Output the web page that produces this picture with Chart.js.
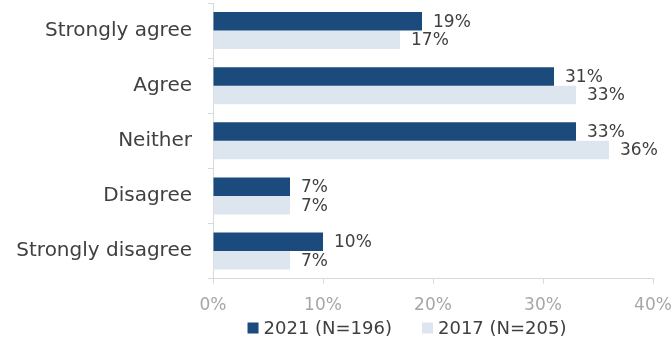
<!DOCTYPE html>
<html>
<head>
<meta charset="utf-8">
<script src="https://cdn.jsdelivr.net/npm/chart.js@4/dist/chart.umd.min.js"></script>
<style>
  html, body { margin: 0; padding: 0; background: #ffffff; }
  #wrap { width: 672px; height: 342px; position: relative; }
</style>
</head>
<body>
<div id="wrap"><canvas id="c" width="672" height="342"></canvas></div>
<script>
// Survey response categories and shares (%) per survey year
const categories = ['Strongly agree', 'Agree', 'Neither', 'Disagree', 'Strongly disagree'];
const values2021 = [19, 31, 33, 7, 10];
const values2017 = [17, 33, 36, 7, 7];
const seriesNames = ['2021 (N=196)', '2017 (N=205)'];
const xTicks = [0, 10, 20, 30, 40];

const FONT = '"DejaVu Sans", sans-serif';
const TEXT = '#404040';
const AXIS = '#d9d9d9';

// Writes each bar's value just past its end
const valueLabels = {
  id: 'valueLabels',
  afterDatasetsDraw(chart) {
    const ctx = chart.ctx;
    ctx.save();
    ctx.font = '17px ' + FONT;
    ctx.fillStyle = TEXT;
    ctx.textAlign = 'left';
    ctx.textBaseline = 'middle';
    chart.data.datasets.forEach((ds, i) => {
      const meta = chart.getDatasetMeta(i);
      meta.data.forEach((bar, j) => {
        ctx.fillText(ds.data[j] + '%', bar.x + 11, bar.y + 1);
      });
    });
    ctx.restore();
  }
};

// Single-row legend under the axis, square swatches with wide spacing
const bottomLegend = {
  id: 'bottomLegend',
  afterDraw(chart) {
    const ctx = chart.ctx;
    const box = 11, gapText = 5, gapItem = 30;
    ctx.save();
    ctx.font = '18px ' + FONT;
    ctx.textBaseline = 'middle';
    ctx.textAlign = 'left';
    const items = chart.data.datasets.map(ds => ({
      text: ds.label, color: ds.backgroundColor, w: ctx.measureText(ds.label).width
    }));
    const total = items.reduce((s, it) => s + box + gapText + it.w, 0) + gapItem * (items.length - 1);
    const cx = (chart.chartArea.left + chart.chartArea.right) / 2 - 26;
    const cy = chart.height - 14;
    let x = cx - total / 2;
    items.forEach(it => {
      ctx.fillStyle = it.color;
      ctx.fillRect(x, cy - box / 2, box, box);
      x += box + gapText;
      ctx.fillStyle = TEXT;
      ctx.fillText(it.text, x, cy + 1);
      x += it.w + gapItem;
    });
    ctx.restore();
  }
};

new Chart(document.getElementById('c'), {
  type: 'bar',
  data: {
    labels: categories,
    datasets: [
      { label: seriesNames[0], data: values2021, backgroundColor: '#1b4a7c' },
      { label: seriesNames[1], data: values2017, backgroundColor: '#dde5ee' }
    ]
  },
  options: {
    indexAxis: 'y',
    responsive: false,
    animation: false,
    devicePixelRatio: 1,
    categoryPercentage: 0.67,
    barPercentage: 1.0,
    layout: { padding: { top: 3, right: 19, left: 0, bottom: 14 } },
    plugins: {
      legend: { display: false },
      tooltip: { enabled: false }
    },
    scales: {
      x: {
        min: 0,
        max: 40,
        afterBuildTicks(axis) { axis.ticks = xTicks.map(v => ({ value: v })); },
        afterFit(axis) {
          axis.paddingLeft = 0;
          axis.paddingRight = 0;
        },
        grid: { drawOnChartArea: false, drawTicks: true, tickLength: 5, color: AXIS },
        border: { color: AXIS },
        ticks: {
          color: '#a6a6a6',
          padding: 12,
          maxRotation: 0,
          font: { family: FONT, size: 17 },
          callback: v => v + '%'
        }
      },
      y: {
        afterFit(axis) {
          axis.width = 213;
          axis.paddingTop = 0;
          axis.paddingBottom = 0;
        },
        grid: { drawOnChartArea: false, drawTicks: true, tickLength: 5, color: AXIS, offset: true },
        border: { color: AXIS },
        ticks: {
          color: TEXT,
          padding: 16,
          font: { family: FONT, size: 20 }
        }
      }
    }
  },
  plugins: [valueLabels, bottomLegend]
});
</script>
</body>
</html>
